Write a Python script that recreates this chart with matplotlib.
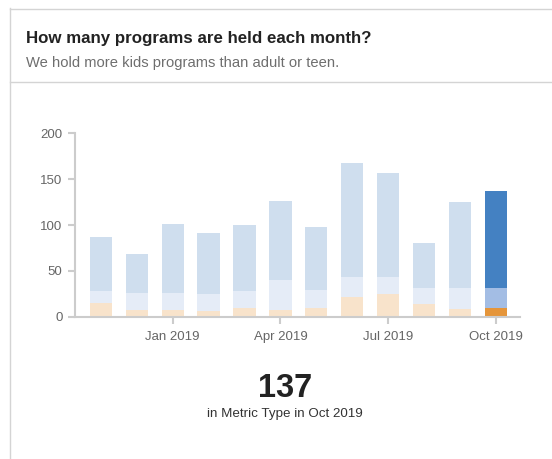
import numpy as np
import matplotlib
matplotlib.use('Agg')
import matplotlib.pyplot as plt
from matplotlib.lines import Line2D

plt.rcParams['font.family'] = ['Liberation Sans', 'DejaVu Sans']

# monthly program counts, Nov 2018 .. Oct 2019
months = ["Nov 2018", "Dec 2018", "Jan 2019", "Feb 2019", "Mar 2019", "Apr 2019",
          "May 2019", "Jun 2019", "Jul 2019", "Aug 2019", "Sep 2019", "Oct 2019"]
teen = [15, 7, 7, 6, 10, 7, 10, 22, 25, 14, 8, 9]
adult = [13, 19, 19, 19, 18, 33, 19, 21, 18, 17, 23, 22]
kids = [59, 42, 75, 66, 72, 86, 69, 125, 114, 49, 94, 106]
tick_months = ["Jan 2019", "Apr 2019", "Jul 2019", "Oct 2019"]
y_ticks = [0, 50, 100, 150, 200]

selected = len(months) - 1
total = teen[selected] + adult[selected] + kids[selected]

W, H = 552, 459
fig = plt.figure(figsize=(W / 100, H / 100), dpi=100)

# card outline and header divider
def fx(px):
    return px / W

def fy(py):
    return 1 - py / H

border = '#d4d4d4'
fig.add_artist(Line2D([fx(9.5), fx(9.5)], [fy(8), 0], color=border, lw=1))
fig.add_artist(Line2D([fx(9.5), 1], [fy(8.5), fy(8.5)], color=border, lw=1))
fig.add_artist(Line2D([fx(9.5), 1], [fy(81.5), fy(81.5)], color=border, lw=1))

fig.text(fx(26), fy(43), "How many programs are held each month?",
         fontsize=12.15, fontweight='bold', color='#222222', va='baseline')
fig.text(fx(26), fy(67), "We hold more kids programs than adult or teen.",
         fontsize=10.6, color='#6e6e6e', va='baseline')

ax = fig.add_axes([fx(75), fy(316.7), fx(520) - fx(75), fy(133.3) - fy(316.7)])

x = np.arange(len(months))
teen_c = ['#f8e3cb'] * len(months)
adult_c = ['#e5ecf7'] * len(months)
kids_c = ['#cfdeee'] * len(months)
teen_c[selected] = '#e5953a'
adult_c[selected] = '#a3bde4'
kids_c[selected] = '#4481c2'

bw = 0.62
ax.bar(x, teen, width=bw, color=teen_c, linewidth=0)
ax.bar(x, adult, width=bw, bottom=teen, color=adult_c, linewidth=0)
ax.bar(x, kids, width=bw, bottom=np.add(teen, adult), color=kids_c, linewidth=0)

ax.set_xlim(-0.72, len(months) - 1 + 0.67)
ax.set_ylim(0, 200)
ax.set_yticks(y_ticks)
ax.set_xticks([months.index(m) for m in tick_months])
ax.set_xticklabels(tick_months)

for s in ['top', 'right']:
    ax.spines[s].set_visible(False)
for s in ['left', 'bottom']:
    ax.spines[s].set_color('#cccccc')
    ax.spines[s].set_linewidth(1.5)
ax.tick_params(axis='both', colors='#cccccc', labelcolor='#666666',
               labelsize=9.5, length=5, width=1.5)
ax.tick_params(axis='x', pad=5)
ax.tick_params(axis='y', pad=4)

fig.text(fx(285), fy(397), f"{total}", fontsize=23.5, fontweight='bold',
         color='#222222', ha='center', va='baseline')
fig.text(fx(285), fy(417), f"in Metric Type in {months[selected]}", fontsize=9.6,
         color='#333333', ha='center', va='baseline')

fig.savefig("out.png", dpi=100)
